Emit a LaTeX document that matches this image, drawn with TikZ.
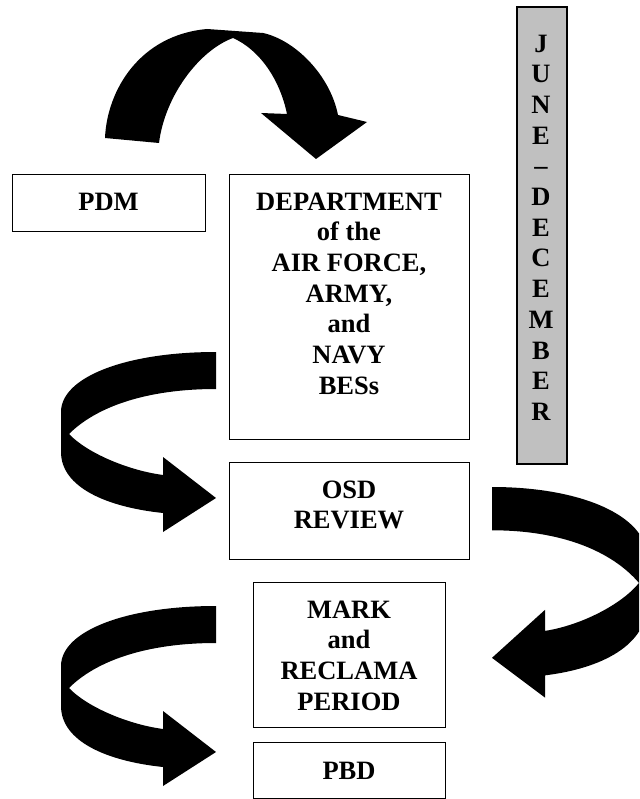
\documentclass[tikz,border=0pt]{standalone}
\usepackage{fontspec}
\setmainfont{Liberation Serif}
\begin{document}
\begin{tikzpicture}[x=1pt,y=-1pt,
  box/.style={draw=black, line width=1.3pt, inner sep=0pt, anchor=north west},
  lbl/.style={font=\bfseries\fontsize{26.5}{30.7}\selectfont, align=center, inner sep=0pt, anchor=north},
  blk/.style={fill=black, draw=none}]
\useasboundingbox (0,0) rectangle (639,799);
\clip (0,0) rectangle (639,799);
\definecolor{silver}{RGB}{192,192,192}

% boxes
\node[box, minimum width=193pt, minimum height=57pt] (pdm) at (12,174) {};
\node[box, minimum width=240pt, minimum height=265pt] (dept) at (229,174) {};
\node[box, fill=silver, line width=1.8pt, minimum width=50pt, minimum height=457pt] (june) at (516,6) {};
\node[box, minimum width=240pt, minimum height=97pt] (osd) at (229,462) {};
\node[box, minimum width=192pt, minimum height=145pt] (mark) at (253,582) {};
\node[box, minimum width=192pt, minimum height=55.5pt] (pbd) at (253,742) {};

% labels
\node[lbl] (pdmtxt) at (108.5,193) {PDM};
\node[lbl] (depttxt) at (349,192.5) {DEPARTMENT\\of the\\AIR FORCE,\\ARMY,\\and\\NAVY\\BESs};
\node[lbl] (osdtxt) at (349,480.5) {OSD\\REVIEW};
\node[lbl] (marktxt) at (349,600.5) {MARK\\and\\RECLAMA\\PERIOD};
\node[lbl] (pbdtxt) at (349,761.5) {PBD};
\node[lbl] (junetxt) at (541,34.5) {J\\U\\N\\E\\–\\D\\E\\C\\E\\M\\B\\E\\R};

% top curved arrow
\fill[blk] (105,138) .. controls (107,90) and (140,35) .. (207,29) -- (263,33)
  .. controls (295,40) and (330,75) .. (338,115) -- (367,122) -- (316,159) -- (261,113) -- (287,114)
  .. controls (280,80) and (260,50) .. (233,38)
  .. controls (200,50) and (165,95) .. (159,143) -- cycle;

% left curved arrows and right curved arrow (same shape)
\foreach \sx/\sy/\xs/\ys in {216/352/1/1, 216/606/1/1, 492/487/-1/1.17}{
  \begin{scope}[shift={(\sx,\sy)}, xscale=\xs, yscale=\ys]
    \fill[blk] (0,0) .. controls (-90,0) and (-155,25) .. (-155,60) -- (-155,100)
      .. controls (-155,135) and (-110,155) .. (-53,161) -- (-53,180) -- (0,146) -- (-53,105) -- (-53,123)
      .. controls (-90,118) and (-130,100) .. (-147,82)
      .. controls (-120,55) and (-70,37) .. (0,37) -- cycle;
  \end{scope}
}
\end{tikzpicture}
\end{document}
